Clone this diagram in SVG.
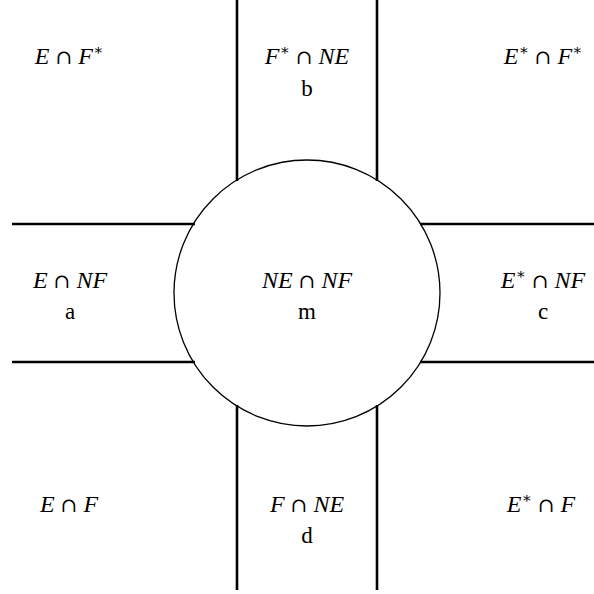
<svg xmlns="http://www.w3.org/2000/svg" width="594" height="594" viewBox="0 0 594 594">
<style>
.bg{fill:#fff}
.ln{stroke:#000;stroke-width:2.6;fill:none}
.circ{stroke:#000;stroke-width:1.3;fill:none}
.lab{font-family:"Liberation Serif","DejaVu Serif",serif;font-size:24px;font-style:italic;text-anchor:middle;fill:#000}
.op{font-style:normal;font-family:"DejaVu Serif",serif;font-size:20px}
.sup{font-style:normal;font-size:15px}
.num{font-family:"Liberation Serif","DejaVu Serif",serif;font-size:23px;text-anchor:middle;fill:#000}
</style>
<rect class="bg" x="0" y="0" width="594" height="594"/>
<g id="connectors">
<line class="ln" x1="237" y1="0" x2="237" y2="181"/>
<line class="ln" x1="377" y1="0" x2="377" y2="181"/>
<line class="ln" x1="237" y1="405" x2="237" y2="590"/>
<line class="ln" x1="377" y1="405" x2="377" y2="590"/>
<line class="ln" x1="12" y1="224" x2="195" y2="224"/>
<line class="ln" x1="12" y1="362" x2="195" y2="362"/>
<line class="ln" x1="420" y1="224" x2="594" y2="224"/>
<line class="ln" x1="420" y1="362" x2="594" y2="362"/>
</g>
<g id="m">
<circle class="circ" cx="307" cy="293" r="133"/>
<text class="lab" x="307" y="288">NE <tspan class="op">∩</tspan> NF</text>
<text class="num" x="307" y="319">m</text>
</g>
<g id="EFs">
<text class="lab" x="69" y="64">E <tspan class="op">∩</tspan> F<tspan class="sup" dy="-9">∗</tspan></text>
</g>
<g id="b">
<text class="lab" x="307" y="64">F<tspan class="sup" dy="-9">∗</tspan><tspan dy="9"> </tspan><tspan class="op">∩</tspan> NE</text>
<text class="num" x="307" y="96">b</text>
</g>
<g id="EsFs">
<text class="lab" x="543" y="64">E<tspan class="sup" dy="-9">∗</tspan><tspan dy="9"> </tspan><tspan class="op">∩</tspan> F<tspan class="sup" dy="-9">∗</tspan></text>
</g>
<g id="a">
<text class="lab" x="70" y="288">E <tspan class="op">∩</tspan> NF</text>
<text class="num" x="70" y="319">a</text>
</g>
<g id="c">
<text class="lab" x="543" y="288">E<tspan class="sup" dy="-9">∗</tspan><tspan dy="9"> </tspan><tspan class="op">∩</tspan> NF</text>
<text class="num" x="543" y="319">c</text>
</g>
<g id="EF">
<text class="lab" x="69" y="512">E <tspan class="op">∩</tspan> F</text>
</g>
<g id="d">
<text class="lab" x="307" y="512">F <tspan class="op">∩</tspan> NE</text>
<text class="num" x="307" y="543">d</text>
</g>
<g id="EsF">
<text class="lab" x="541" y="512">E<tspan class="sup" dy="-9">∗</tspan><tspan dy="9"> </tspan><tspan class="op">∩</tspan> F</text>
</g>
</svg>
